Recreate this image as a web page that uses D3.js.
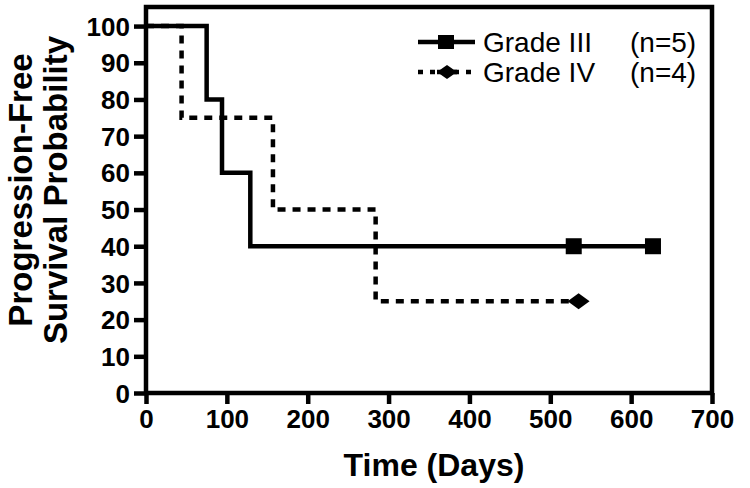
<!DOCTYPE html>
<html><head><meta charset="utf-8">
<script src="https://cdn.jsdelivr.net/npm/d3@7"></script>
<style>
html,body{margin:0;padding:0;background:#fff;}
svg{display:block;}
text{font-family:"Liberation Sans",Arial,sans-serif;fill:#000;}
</style></head>
<body>
<svg id="chart" width="750" height="488"></svg>
<script>
// Data
const seriesNames = ["Grade III", "Grade IV"];
const seriesN = ["(n=5)", "(n=4)"];
const gradeIIITimes = [0, 75, 94, 129, 627];
const gradeIIISurv = [100, 80, 60, 40, 40];
const gradeIIICensor = [529, 627];
const gradeIVTimes = [0, 44, 157, 284, 535];
const gradeIVSurv = [100, 75, 50, 25, 25];
const gradeIVCensor = [535];
const xTicks = [0, 100, 200, 300, 400, 500, 600, 700];
const yTicks = [0, 10, 20, 30, 40, 50, 60, 70, 80, 90, 100];

(function () {
const svg = d3.select("#chart");
const mLeft = 146, mRight = 712, mTop = 7, mBottom = 393;
const x = d3.scaleLinear().domain([0, 700]).range([mLeft, mRight]);
const y = d3.scaleLinear().domain([0, 105.2]).range([mBottom, mTop]);
const lw = 4.5;

// frame
svg.append("rect").attr("x", mLeft).attr("y", mTop)
  .attr("width", mRight - mLeft).attr("height", mBottom - mTop)
  .attr("fill", "none").attr("stroke", "#000").attr("stroke-width", lw);

// axes
const yAxis = d3.axisLeft(y).tickValues(yTicks).tickSize(12).tickPadding(4);
const gy = svg.append("g").attr("transform", `translate(${mLeft},0)`).call(yAxis);
gy.select(".domain").remove();
gy.selectAll(".tick line").attr("stroke", "#000").attr("stroke-width", lw);
gy.selectAll(".tick text").attr("font-size", 26).attr("font-weight", "bold")
  .attr("font-family", "Liberation Sans, Arial, sans-serif").attr("dy", "0.35em");

const xAxis = d3.axisBottom(x).tickValues(xTicks).tickSize(11).tickPadding(6);
const gx = svg.append("g").attr("transform", `translate(0,${mBottom})`).call(xAxis);
gx.select(".domain").remove();
gx.selectAll(".tick line").attr("stroke", "#000").attr("stroke-width", lw);
gx.selectAll(".tick text").attr("font-size", 26).attr("font-weight", "bold")
  .attr("font-family", "Liberation Sans, Arial, sans-serif").attr("dy", "0.71em");

// axis titles
svg.append("text").attr("x", 434).attr("y", 476)
  .attr("text-anchor", "middle").attr("font-size", 32).attr("font-weight", "bold")
  .text("Time (Days)");
const yt = svg.append("text").attr("transform", "translate(32,190) rotate(-90)")
  .attr("text-anchor", "middle").attr("font-size", 33).attr("font-weight", "bold");
yt.append("tspan").attr("x", 0).attr("y", 0).text("Progression-Free");
yt.append("tspan").attr("x", 0).attr("y", 35).text("Survival Probability");

// curves
const line = d3.line().x(d => x(d[0])).y(d => y(d[1])).curve(d3.curveStepAfter);
const dIII = gradeIIITimes.map((t, i) => [t, gradeIIISurv[i]]);
const dIV = gradeIVTimes.map((t, i) => [t, gradeIVSurv[i]]);

svg.append("path").datum(dIV).attr("d", line).attr("fill", "none")
  .attr("stroke", "#000").attr("stroke-width", lw).attr("stroke-dasharray", "8,7");
svg.append("path").datum(dIII).attr("d", line).attr("fill", "none")
  .attr("stroke", "#000").attr("stroke-width", lw);

// censor marks
const sq = 16;
svg.selectAll(".cIII").data(gradeIIICensor).enter().append("rect")
  .attr("x", d => x(d) - sq / 2).attr("y", y(40) - sq / 2)
  .attr("width", sq).attr("height", sq).attr("fill", "#000");
const diamond = (cx, cy, w, h) => `M${cx - w},${cy}L${cx},${cy - h}L${cx + w},${cy}L${cx},${cy + h}Z`;
svg.selectAll(".cIV").data(gradeIVCensor).enter().append("path")
  .attr("d", d => diamond(x(d), y(25), 11, 8)).attr("fill", "#000");

// legend
const lg = svg.append("g");
const ly = [42, 72];
lg.append("line").attr("x1", 418).attr("x2", 475).attr("y1", ly[0]).attr("y2", ly[0])
  .attr("stroke", "#000").attr("stroke-width", lw);
lg.append("rect").attr("x", 446 - 8).attr("y", ly[0] - 7).attr("width", 16).attr("height", 14).attr("fill", "#000");
lg.append("line").attr("x1", 418).attr("x2", 478).attr("y1", ly[1]).attr("y2", ly[1])
  .attr("stroke", "#000").attr("stroke-width", lw).attr("stroke-dasharray", "5,7");
lg.append("path").attr("d", diamond(447, ly[1], 10, 7)).attr("fill", "#000");
lg.append("line").attr("x1", 437).attr("x2", 457).attr("y1", ly[1]).attr("y2", ly[1])
  .attr("stroke", "#000").attr("stroke-width", lw);
seriesNames.forEach((n, i) => {
  lg.append("text").attr("x", 483).attr("y", ly[i] + 10).attr("font-size", 28).text(n);
  lg.append("text").attr("x", 630).attr("y", ly[i] + 10).attr("font-size", 28).text(seriesN[i]);
});
})();
</script>
</body></html>
